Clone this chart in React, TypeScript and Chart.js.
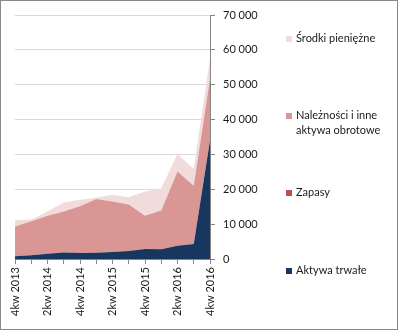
import React, { useEffect, useRef } from "react";
import { Chart, registerables } from "chart.js";
Chart.register(...registerables);

const categories = [
  "4kw 2013", "1kw 2014", "2kw 2014", "3kw 2014", "4kw 2014",
  "1kw 2015", "2kw 2015", "3kw 2015", "4kw 2015",
  "1kw 2016", "2kw 2016", "3kw 2016", "4kw 2016",
];
const aktywaTrwale = [800, 1050, 1500, 1900, 1700, 1800, 2000, 2300, 2900, 2800, 3800, 4300, 34000];
const zapasy = [50, 50, 50, 50, 50, 50, 50, 50, 50, 50, 50, 50, 100];
const naleznosci = [8500, 9700, 10850, 11650, 13350, 15350, 14450, 13250, 9450, 11050, 21250, 16650, 17700];
const srodki = [1750, 500, 1200, 2600, 1900, 400, 1900, 2100, 7000, 6400, 5000, 4800, 5700];
const yMax = 70000;
const yStep = 10000;

const seriesNames = ["Aktywa trwałe", "Zapasy", "Należności i inne aktywa obrotowe", "Środki pieniężne"];
const seriesColors = ["#17375E", "#C0504D", "#D99694", "#F2DCDB"];

const FONT = "Lato, 'Liberation Sans', sans-serif";

function fmt(v: number) {
  return String(v).replace(/\B(?=(\d{3})+(?!\d))/g, " ");
}

export default function App() {
  const ref = useRef<HTMLCanvasElement | null>(null);
  useEffect(() => {
    document.body.style.margin = "0";
    const values = [aktywaTrwale, zapasy, naleznosci, srodki];
    const chart = new Chart(ref.current!, {
      type: "line",
      data: {
        labels: categories,
        datasets: values.map((d, i) => ({
          label: seriesNames[i],
          data: d,
          backgroundColor: seriesColors[i],
          borderColor: "transparent",
          borderWidth: 0,
          pointRadius: 0,
          tension: 0,
          fill: i === 0 ? "origin" : "-1",
        })),
      },
      options: {
        animation: false,
        responsive: false,
        devicePixelRatio: 1,
        layout: { padding: { left: 15, top: 15, right: 138, bottom: 0 } },
        plugins: { legend: { display: false }, tooltip: { enabled: false } },
        scales: {
          x: {
            offset: false,
            grid: { drawOnChartArea: false, drawTicks: true, tickLength: 5, tickColor: "#868686" },
            border: { color: "#868686", width: 1 },
            ticks: {
              autoSkip: false,
              minRotation: 90,
              maxRotation: 90,
              padding: 3,
              color: "#1a1a1a",
              font: { family: FONT, size: 11 },
              callback: (_v: any, i: number) => (i % 2 === 0 ? categories[i] : ""),
            },
            afterFit: (s: any) => { s.height = 71; },
          },
          y: {
            position: "right",
            stacked: true,
            min: 0,
            max: yMax,
            grid: { color: "#D9D9D9", tickLength: 5, tickColor: "#868686" },
            border: { color: "#868686", width: 1 },
            ticks: {
              stepSize: yStep,
              padding: 8,
              color: "#1a1a1a",
              font: { family: FONT, size: 11 },
              callback: (v: any) => fmt(Number(v)),
            },
            afterFit: (s: any) => { s.width = 50; },
          },
        },
      },
    });
    return () => chart.destroy();
  }, []);

  const legendItems = [
    { name: "Środki pieniężne", color: seriesColors[3], top: 30, lines: ["Środki pieniężne"] },
    { name: seriesNames[2], color: seriesColors[2], top: 107, lines: ["Należności i inne", "aktywa obrotowe"] },
    { name: seriesNames[1], color: seriesColors[1], top: 184, lines: ["Zapasy"] },
    { name: seriesNames[0], color: seriesColors[0], top: 262, lines: ["Aktywa trwałe"] },
  ];

  return (
    <div style={{ position: "absolute", left: 0, top: 0, width: 398, height: 330 }}>
      <canvas ref={ref} width={398} height={330} style={{ position: "absolute", left: 0, top: 0, width: 398, height: 330 }} />
      {legendItems.map((it) => (
        <div key={it.name} style={{ position: "absolute", left: 286, top: it.top }}>
          <div style={{ position: "absolute", left: 0, top: 6, width: 6, height: 6, background: it.color }} />
          <div style={{ position: "absolute", left: 10, top: 0, fontFamily: FONT, fontSize: 11, lineHeight: "15px", color: "#1a1a1a", whiteSpace: "nowrap" }}>
            {it.lines.map((l) => (<div key={l}>{l}</div>))}
          </div>
        </div>
      ))}
      <div style={{ position: "absolute", left: 0, top: 0, width: 398, height: 330, boxSizing: "border-box", border: "1px solid #898989", pointerEvents: "none" }} />
    </div>
  );
}
